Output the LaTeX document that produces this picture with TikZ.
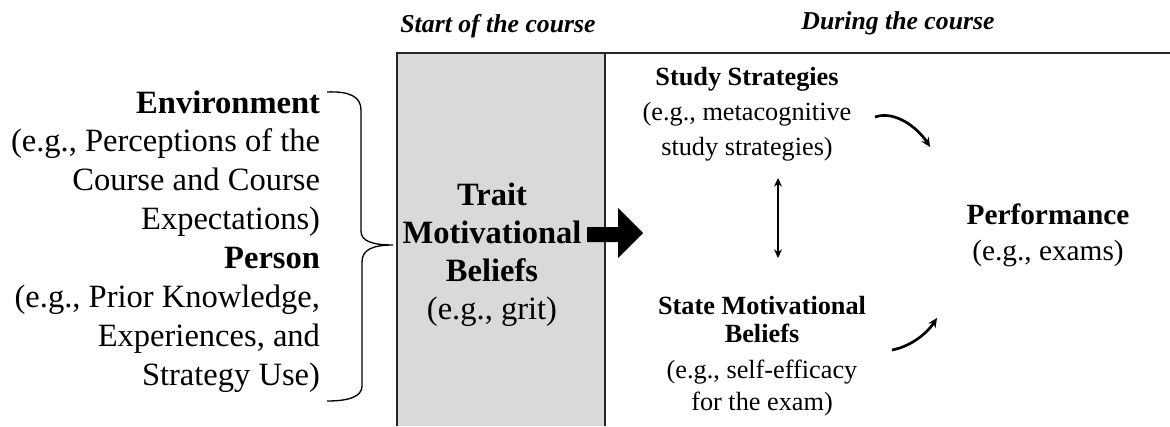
\documentclass[tikz,border=0pt]{standalone}
\usepackage{fontspec}
\setmainfont{Liberation Serif}
\usetikzlibrary{arrows.meta}
\definecolor{boxgray}{HTML}{D9D9D9}
\begin{document}
\begin{tikzpicture}[x=0.75pt,y=-0.75pt,
  every node/.style={inner sep=0pt,outer sep=0pt},
  lefttext/.style={font=\fontsize{24.4}{29.14}\selectfont,align=right,anchor=base east},
  traittext/.style={font=\fontsize{24.4}{28.5}\selectfont,align=center,anchor=base},
  righttext/.style={font=\fontsize{19.7}{26.25}\selectfont,align=center,anchor=base},
  perftext/.style={font=\fontsize{22}{27}\selectfont,align=center,anchor=base},
  phase/.style={font=\bfseries\itshape\fontsize{19.3}{23}\selectfont,anchor=base},
  frameline/.style={line width=1.4pt,black!85},
  bracepath/.style={line width=1pt},
  dblarrow/.style={line width=1pt,{Stealth[length=6.5pt,width=6pt]}-{Stealth[length=6.5pt,width=6pt]}},
  curvearrow/.style={line width=2pt,-{Stealth[length=7pt,width=6.5pt]}},
]
\useasboundingbox (0,0) rectangle (1170,426);
% shaded column and frame
\fill[boxgray] (397,53) rectangle (605,426);
\draw[frameline] (397,426) -- (397,53) -- (1170,53);
\draw[frameline] (605,53) -- (605,426);
% phase labels
\node[phase] (start) at (498,32) {Start of the course};
\node[phase] (during) at (898,29) {During the course};
% left texts
\node[lefttext] (env) at (320,229.6) {\textbf{Environment}\\(e.g., Perceptions of the\\Course and Course\\Expectations)};
\node[lefttext] (person) at (320,385) {\textbf{Person}\\(e.g., Prior Knowledge,\\Experiences, and\\Strategy Use)};
% brace
\coordinate (btop) at (327,92);
\coordinate (btip) at (393,245);
\coordinate (bbot) at (327,401);
\draw[bracepath] (btop) .. controls (350,91) and (361,97) .. (361,110) -- (361,231)
  .. controls (361,241) and (372,245) .. (btip)
  .. controls (372,245) and (362,250) .. (362,262) -- (362,386)
  .. controls (362,397) and (348,401) .. (bbot);
% trait
\node[traittext] (trait) at (492,319) {\textbf{Trait}\\\textbf{Motivational}\\\textbf{Beliefs}\\(e.g., grit)};
% block arrow
\fill (587,227) -- (618,227) -- (618,208) -- (643,233) -- (618,258) -- (618,242) -- (587,242) -- cycle;
% right texts
\node[righttext] (study) at (747,155) {\textbf{Study Strategies}\\(e.g., metacognitive\\study strategies)};
\node[righttext,font=\fontsize{19.7}{24}\selectfont] (state) at (762,410) {\textbf{State Motivational}\\[-3pt]\textbf{Beliefs}\\[3pt](e.g., self-efficacy\\for the exam)};
\node[perftext] (perf) at (1048,260) {\textbf{Performance}\\(e.g., exams)};
% connectors
\coordinate (sa) at (778,178);
\coordinate (sb) at (778,258);
\draw[dblarrow] (sa) -- (sb);
\coordinate (c1s) at (875,117);
\coordinate (c1e) at (930,147);
\draw[curvearrow] (c1s) .. controls (895,110) and (918,128) .. (c1e);
\coordinate (c2s) at (892,350);
\coordinate (c2e) at (937,318);
\draw[curvearrow] (c2s) .. controls (908,347) and (925,336) .. (c2e);
\end{tikzpicture}
\end{document}
